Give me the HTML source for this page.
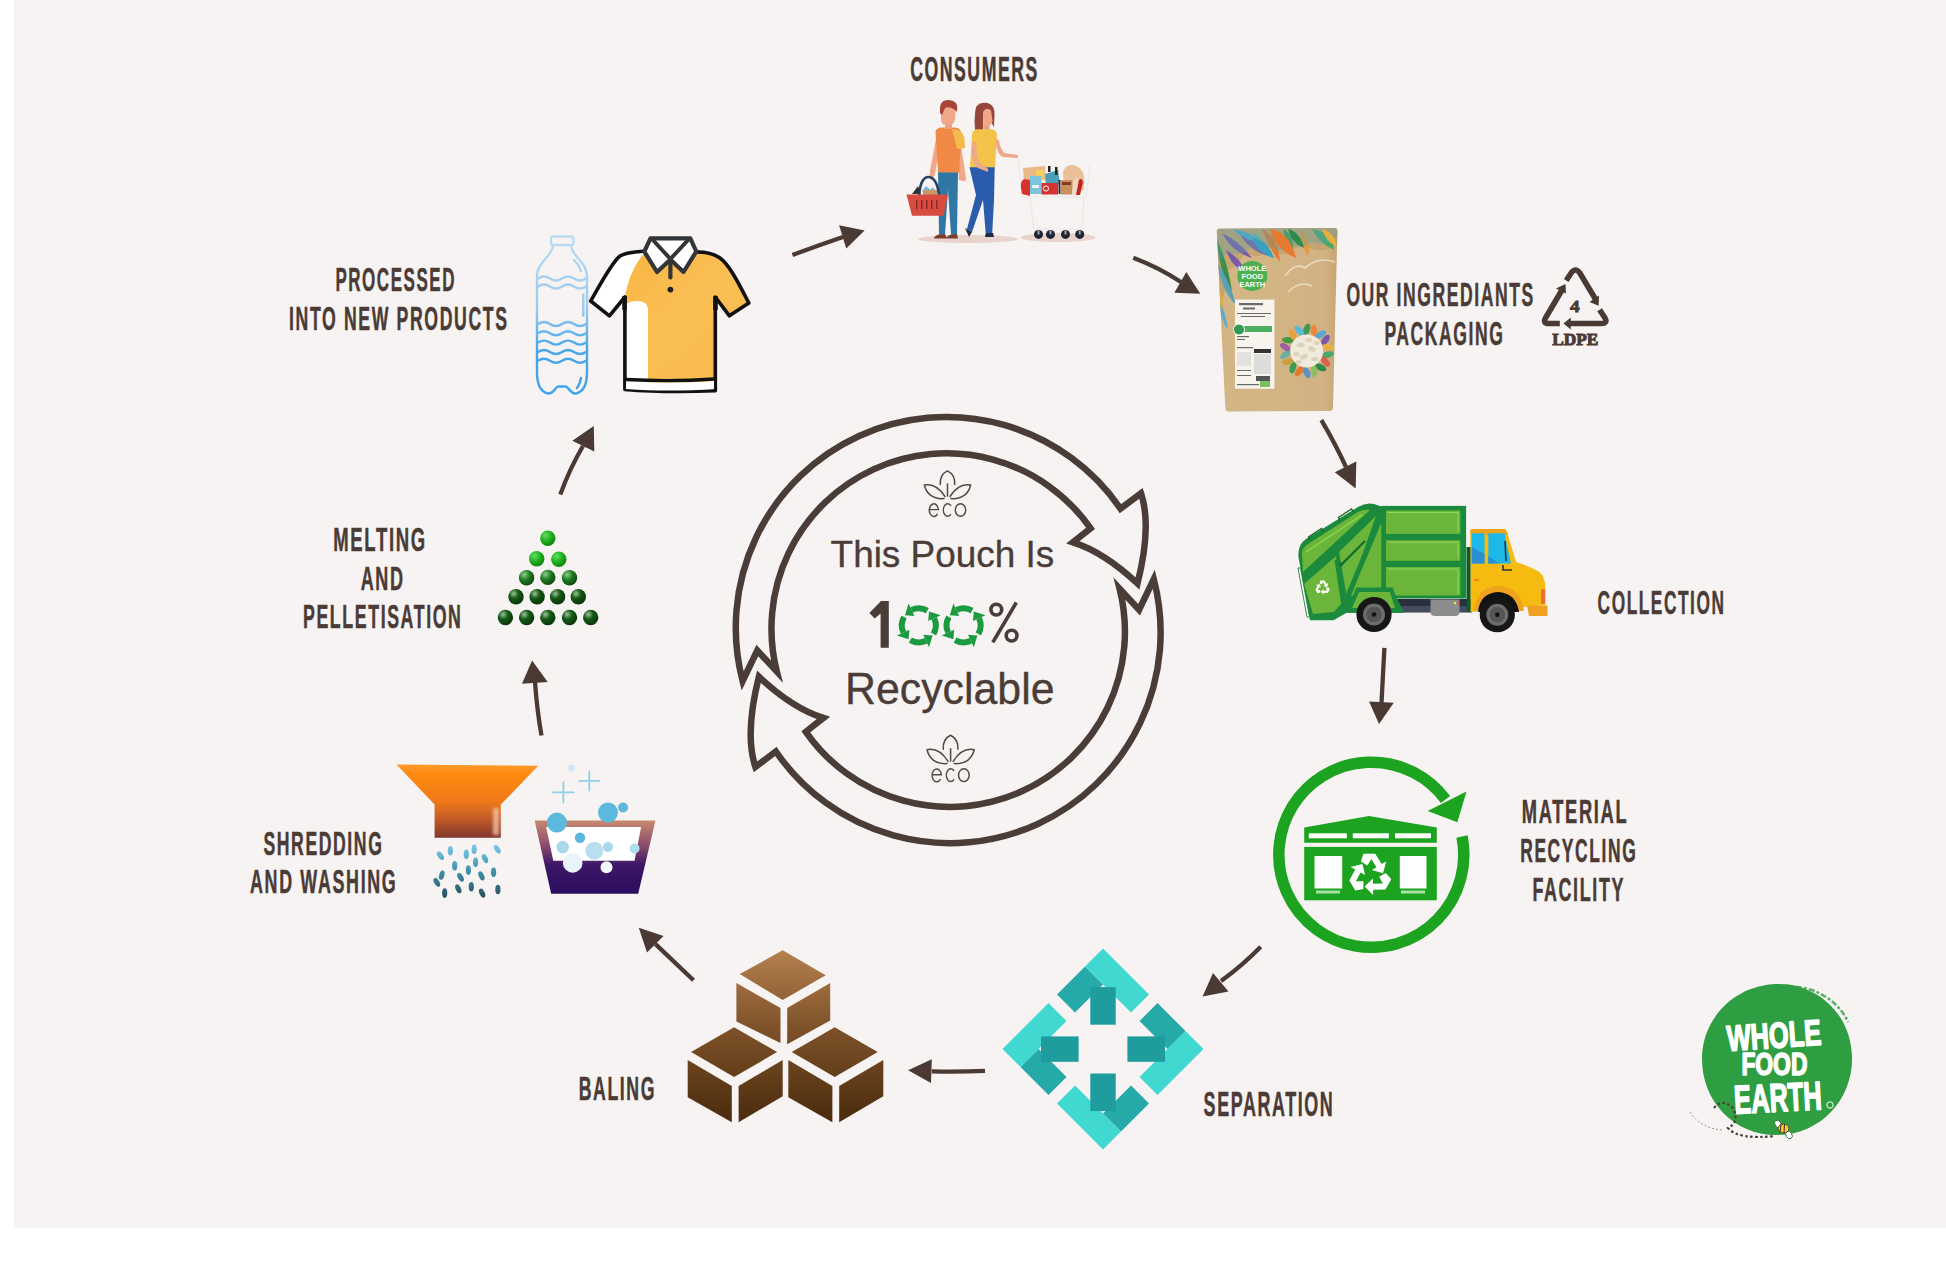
<!DOCTYPE html>
<html><head><meta charset="utf-8">
<style>
html,body{margin:0;padding:0;background:#fff;width:1946px;height:1268px;overflow:hidden}
svg{position:absolute;left:0;top:0;display:block}
.lb{font-family:"Liberation Sans",sans-serif;font-weight:bold;font-size:33.4px;fill:#4a3b36;stroke:#4a3b36;stroke-width:0.5px}
.rg{font-family:"Liberation Sans",sans-serif;fill:#4a3c37}
</style></head><body>
<svg width="1946" height="1268" viewBox="0 0 1946 1268">
<defs>
</defs>
<rect x="14" y="0" width="1932" height="1228" fill="#f7f3f2"/>

<!-- LABELS -->
<g class="lb">
<text x="910.2" y="81.2" font-size="34.7" letter-spacing="3" textLength="128.6" lengthAdjust="spacingAndGlyphs">CONSUMERS</text>
<text x="335.4" y="290.8" font-size="33.1" letter-spacing="3" textLength="120.6" lengthAdjust="spacingAndGlyphs">PROCESSED</text>
<text x="289.0" y="329.7" font-size="32.3" letter-spacing="3" textLength="219.7" lengthAdjust="spacingAndGlyphs">INTO NEW PRODUCTS</text>
<text x="1346.4" y="306.0" font-size="33.1" letter-spacing="3" textLength="188.4" lengthAdjust="spacingAndGlyphs">OUR INGREDIANTS</text>
<text x="1384.4" y="345.0" font-size="33.4" letter-spacing="3" textLength="120.1" lengthAdjust="spacingAndGlyphs">PACKAGING</text>
<text x="1597.6" y="614.1" font-size="33.4" letter-spacing="3" textLength="127.9" lengthAdjust="spacingAndGlyphs">COLLECTION</text>
<text x="1521.8" y="823.1" font-size="33.0" letter-spacing="3" textLength="106.5" lengthAdjust="spacingAndGlyphs">MATERIAL</text>
<text x="1520.2" y="861.9" font-size="32.3" letter-spacing="3" textLength="117.1" lengthAdjust="spacingAndGlyphs">RECYCLING</text>
<text x="1532.4" y="900.7" font-size="32.3" letter-spacing="3" textLength="92.7" lengthAdjust="spacingAndGlyphs">FACILITY</text>
<text x="1203.6" y="1115.8" font-size="34.2" letter-spacing="3" textLength="130.7" lengthAdjust="spacingAndGlyphs">SEPARATION</text>
<text x="578.7" y="1099.8" font-size="33.1" letter-spacing="3" textLength="77.3" lengthAdjust="spacingAndGlyphs">BALING</text>
<text x="263.4" y="854.5" font-size="33.0" letter-spacing="3" textLength="120.1" lengthAdjust="spacingAndGlyphs">SHREDDING</text>
<text x="250.0" y="892.9" font-size="32.3" letter-spacing="3" textLength="147.4" lengthAdjust="spacingAndGlyphs">AND WASHING</text>
<text x="333.2" y="550.8" font-size="33.1" letter-spacing="3" textLength="93.7" lengthAdjust="spacingAndGlyphs">MELTING</text>
<text x="360.7" y="589.6" font-size="33.1" letter-spacing="3" textLength="44.0" lengthAdjust="spacingAndGlyphs">AND</text>
<text x="303.0" y="628.4" font-size="33.1" letter-spacing="3" textLength="159.5" lengthAdjust="spacingAndGlyphs">PELLETISATION</text>
</g>

<!-- STEP ARROWS -->
<g fill="#4a3a33" stroke="none">
<path d="M792.4 255 Q818 245.5 843 237" fill="none" stroke="#4a3a33" stroke-width="4.2"/>
<polygon points="864.6,230.6 839.1,225.2 846.3,248.6"/>
<path d="M1133.3 257.7 Q1160 268 1181 282" fill="none" stroke="#4a3a33" stroke-width="4.3"/>
<polygon points="1200.3,293.8 1174.4,292.7 1186.3,272"/>
<path d="M1321.4 420.1 Q1336 445 1346 467" fill="none" stroke="#4a3a33" stroke-width="4.3"/>
<polygon points="1355.7,488.4 1334.8,472.3 1356.3,461.6"/>
<path d="M1384.4 647.8 Q1383 675 1381.5 703" fill="none" stroke="#4a3a33" stroke-width="4.3"/>
<polygon points="1379,724.1 1369.1,701.4 1393.8,702.7"/>
<path d="M1260.7 946.7 Q1243 965 1221 981" fill="none" stroke="#4a3a33" stroke-width="4.3"/>
<polygon points="1202.6,996.6 1213,972.9 1228.5,991.6"/>
<path d="M985 1070.8 Q960 1072 931.8 1071.4" fill="none" stroke="#4a3a33" stroke-width="4.3"/>
<polygon points="908.1,1070.2 931.8,1059.2 931,1083"/>
<path d="M693.5 980.3 L655.5 944.1" fill="none" stroke="#4a3a33" stroke-width="4.3"/>
<polygon points="638.8,927.7 663.6,935.9 647,952.6"/>
<path d="M541.5 735.5 Q537 710 535 682" fill="none" stroke="#4a3a33" stroke-width="4.3"/>
<polygon points="532.1,660.5 522,683.8 547.7,681.9"/>
<path d="M560.3 494.4 Q570 468 583 446" fill="none" stroke="#4a3a33" stroke-width="4.3"/>
<polygon points="593.8,426.1 572.3,440.8 594.3,451.5"/>
</g>

<!-- CENTRAL RING -->
<g fill="none" stroke="#4a3c36" stroke-width="6.5" stroke-linejoin="miter" stroke-miterlimit="10">
<path id="ringA" d="M742.6 681.0 A210.8 210.8 0 0 1 1120.5 508.7 L1141 493.3 Q1152 526 1137.5 583.5 Q1104 552 1073 542.3 L1090.6 528.4 A175.3 175.3 0 0 0 776.8 671.5 L757.3 650.5 Z"/>
<use href="#ringA" transform="rotate(180 948.2 630.1)"/>
</g>

<!-- CENTER TEXT -->
<g class="rg">
<text x="830.6" y="567.2" font-size="37.3" textLength="223.5" lengthAdjust="spacingAndGlyphs" stroke="#4a3c37" stroke-width="0.35">This Pouch Is</text>
<text x="845.0" y="703.7" font-size="44.2" textLength="209.5" lengthAdjust="spacingAndGlyphs" stroke="#4a3c37" stroke-width="0.35">Recyclable</text>
<polygon points="880.6,601.1 888.8,601.1 888.8,647.8 880.6,647.8 880.6,613.5 874.6,618.4 869.4,613 881,601.1"/>
<g fill="none" stroke="#4a3c37" stroke-width="3.6"><circle cx="996.3" cy="609.6" r="5.4"/><circle cx="1011.6" cy="635.6" r="5.4"/><path d="M1016.3 602.5 L992.8 642.3"/></g>
</g>
<!-- GREEN 00 -->
<g id="g00" fill="#1b9a40">
<g id="rc1" transform="translate(918.8 625.4)">
 <g id="rseg">
  <path d="M8.5 -14.72 A17 17 0 0 0 -7.18 -15.41" fill="none" stroke="#1b9a40" stroke-width="6"/>
  <polygon points="-10.2,-21.9 -4.4,-9.4 -13.8,-10.2"/>
 </g>
 <use href="#rseg" transform="rotate(-90)"/>
 <use href="#rseg" transform="rotate(180)"/>
 <use href="#rseg" transform="rotate(90)"/>
</g>
<use href="#rc1" transform="translate(44.8 0)"/>
</g>

<!-- ECO ICONS -->
<g id="eco1" fill="none" stroke="#4f4a48" stroke-width="1.5" stroke-linecap="round">
 <path d="M940.3 484.5 C939.8 477 943.5 472.8 947.4 470.9 C951.3 472.8 955.2 477 954.7 484.5"/>
 <path d="M945 496.5 C939 487 932 483.5 924.4 485 C926 493 932.5 499.5 944 498.6"/>
 <path d="M950 496.5 C956 487 963 483.5 970.6 485 C969 493 962.5 499.5 951 498.6"/>
 <path d="M947.5 484 V496"/>
 <path d="M929.4 509.6 H938.4 A4.55 6.3 0 1 0 937.3 514.3" stroke-width="1.45"/>
 <path d="M950.6 505.4 A4.3 6.3 0 1 0 950.6 514.6" stroke-width="1.45"/>
 <ellipse cx="960.5" cy="510" rx="5.2" ry="6.3" stroke-width="1.45"/>
</g>
<use href="#eco1" transform="translate(950.5 735.3) scale(1.02) translate(-947.4 -470.9)"/>

<!-- MRF ICON -->
<g id="mrf">
 <path d="M1462.0 836.5 A92.5 92.5 0 1 1 1445.5 799.5" fill="none" stroke="#1ca31f" stroke-width="11.5"/>
 <polygon points="1457.3,822.2 1427.6,810.9 1466.5,791.4" fill="#1ca31f"/>
 <polygon points="1304.2,827.4 1369,816 1436.8,827.4 1436.8,842.8 1304.2,842.8" fill="#1ca31f"/>
 <rect x="1304.2" y="846.9" width="132.6" height="53.4" fill="#1ca31f"/>
 <rect x="1308.8" y="833.3" width="38" height="5" fill="#fff"/>
 <rect x="1352.8" y="833.3" width="36" height="5" fill="#fff"/>
 <rect x="1395" y="833.3" width="36" height="5" fill="#fff"/>
 <rect x="1314.5" y="856" width="27.7" height="32.5" fill="#fff"/>
 <rect x="1399.8" y="856" width="26.7" height="32.5" fill="#fff"/>
 <rect x="1316" y="890.5" width="24" height="3" fill="#a8e0a8"/>
 <rect x="1401" y="890.5" width="24" height="3" fill="#a8e0a8"/>
 <g transform="translate(1370 874.5) scale(1.3)" fill="#fff">
  <g id="mrfarr">
   <path d="M-5 -16 L4 -16 L9 -8 L12.5 -10 L10 -1 L1.5 -3.5 L5 -5.5 L1 -12 L-2 -7 L-7 -10 Z"/>
  </g>
  <use href="#mrfarr" transform="rotate(120)"/>
  <use href="#mrfarr" transform="rotate(240)"/>
 </g>
</g>

<!-- SEPARATION DIAMOND -->
<g id="sep" transform="translate(1103 1049.1)">
 <g id="chev">
  <polygon points="-46,-54.5 -18,-82.5 0,-64.5 -28,-36.5" fill="#25aaa9"/>
  <polygon points="46,-54.5 0,-100.5 -18,-82.5 28,-36.5" fill="#40d8d0"/>
  <rect x="-12.7" y="-62" width="25.4" height="37.6" fill="#1f9c9e"/>
 </g>
 <use href="#chev" transform="rotate(90)"/>
 <use href="#chev" transform="rotate(180)"/>
 <use href="#chev" transform="rotate(270)"/>
</g>

<!-- CUBES -->
<defs>
 <linearGradient id="cubeg" gradientUnits="userSpaceOnUse" x1="0" y1="950" x2="0" y2="1122">
  <stop offset="0" stop-color="#b5814f"/>
  <stop offset="0.45" stop-color="#7e5229"/>
  <stop offset="1" stop-color="#4a2b0c"/>
 </linearGradient>
</defs>
<g id="cubes" fill="url(#cubeg)">
 <g id="cube1">
  <polygon points="782.7,950.3 825.7,975.2 782.7,1000.1 739.8,974.1"/>
  <polygon points="736.4,983.1 780.5,1008 780.5,1043.1 736.4,1021.6"/>
  <polygon points="787.2,1008 830.2,983.1 830.2,1020.4 787.2,1044.2"/>
 </g>
 <polygon points="734.1,1027.2 777.1,1052.1 734.1,1077 691.1,1052.1"/>
 <polygon points="687.7,1060 731.8,1086 731.8,1122.2 687.7,1097.3"/>
 <polygon points="738.6,1086 782.7,1060 782.7,1096.2 738.6,1122.2"/>
 <polygon points="834.7,1027.2 877.7,1052.1 834.7,1077 791.7,1052.1"/>
 <polygon points="788.3,1060 832.4,1086 832.4,1122.2 788.3,1097.3"/>
 <polygon points="839.2,1086 883.3,1060 883.3,1096.2 839.2,1122.2"/>
</g>

<!-- PELLETS -->
<defs>
 <radialGradient id="pelg1" cx="0.35" cy="0.3" r="0.8">
  <stop offset="0" stop-color="#5fe05f"/>
  <stop offset="0.5" stop-color="#1fae1f"/>
  <stop offset="1" stop-color="#0f7a0f"/>
 </radialGradient>
 <radialGradient id="pelg2" cx="0.35" cy="0.3" r="0.8">
  <stop offset="0" stop-color="#8ad08a"/>
  <stop offset="0.45" stop-color="#1f7a1f"/>
  <stop offset="1" stop-color="#0b3f0b"/>
 </radialGradient>
 <radialGradient id="pelg3" cx="0.35" cy="0.3" r="0.8">
  <stop offset="0" stop-color="#9ac49a"/>
  <stop offset="0.4" stop-color="#155915"/>
  <stop offset="1" stop-color="#062e06"/>
 </radialGradient>
</defs>
<g id="pellets">
 <circle cx="547.8" cy="538.2" r="7.7" fill="url(#pelg1)"/>
 <circle cx="536.7" cy="558.8" r="7.7" fill="url(#pelg1)"/>
 <circle cx="558.8" cy="559.2" r="7.7" fill="url(#pelg1)"/>
 <circle cx="526.6" cy="577.7" r="7.7" fill="url(#pelg2)"/>
 <circle cx="547.8" cy="577.4" r="7.7" fill="url(#pelg2)"/>
 <circle cx="569.5" cy="577.7" r="7.7" fill="url(#pelg2)"/>
 <circle cx="516" cy="596.7" r="7.7" fill="url(#pelg3)"/>
 <circle cx="537.1" cy="596.7" r="7.7" fill="url(#pelg3)"/>
 <circle cx="557.6" cy="596.7" r="7.7" fill="url(#pelg3)"/>
 <circle cx="578.3" cy="596.7" r="7.7" fill="url(#pelg3)"/>
 <circle cx="505.4" cy="617.5" r="7.7" fill="url(#pelg3)"/>
 <circle cx="526.6" cy="617.5" r="7.7" fill="url(#pelg3)"/>
 <circle cx="547.8" cy="617.5" r="7.7" fill="url(#pelg3)"/>
 <circle cx="569.5" cy="617.5" r="7.7" fill="url(#pelg3)"/>
 <circle cx="590.7" cy="617.5" r="7.7" fill="url(#pelg3)"/>
</g>
<!-- SHREDDER FUNNEL -->
<defs>
 <linearGradient id="fung" gradientUnits="userSpaceOnUse" x1="0" y1="764" x2="0" y2="838">
  <stop offset="0" stop-color="#ff9a2a"/>
  <stop offset="0.15" stop-color="#ff8a10"/>
  <stop offset="0.5" stop-color="#f07a18"/>
  <stop offset="0.75" stop-color="#c05a28"/>
  <stop offset="1" stop-color="#80362e"/>
 </linearGradient>
 <linearGradient id="dropg" x1="0" y1="0" x2="0" y2="1">
  <stop offset="0" stop-color="#7cc8e6"/>
  <stop offset="1" stop-color="#2e5c6a"/>
 </linearGradient>
 <linearGradient id="dropAll" gradientUnits="userSpaceOnUse" x1="0" y1="846" x2="0" y2="898">
  <stop offset="0" stop-color="#78c6e6"/>
  <stop offset="0.5" stop-color="#3f8fa8"/>
  <stop offset="1" stop-color="#2a4f5c"/>
 </linearGradient>
 <linearGradient id="tubg" gradientUnits="userSpaceOnUse" x1="0" y1="820" x2="0" y2="894">
  <stop offset="0" stop-color="#c98a70"/>
  <stop offset="0.35" stop-color="#8a4a6a"/>
  <stop offset="0.6" stop-color="#3e1868"/>
  <stop offset="1" stop-color="#2a0c5e"/>
 </linearGradient>
</defs>
<polygon points="396.5,764.4 538.2,765.8 500.8,804.6 500.8,837.7 434.6,837.7 434.6,804.6" fill="url(#fung)"/>
<defs><filter id="blur2" x="-50%" y="-50%" width="200%" height="200%"><feGaussianBlur stdDeviation="1.6"/></filter></defs>
<rect x="493" y="808" width="6" height="27" fill="#f8d0b8" opacity="0.7" filter="url(#blur2)"/>
<g fill="url(#dropAll)">
 <ellipse cx="440.4" cy="855.7" rx="2.6" ry="4.8" transform="rotate(-35 440.4 855.7)"/>
 <ellipse cx="450.4" cy="850.7" rx="2.6" ry="4.8"/>
 <ellipse cx="466.3" cy="854.3" rx="2.6" ry="4.8"/>
 <ellipse cx="474.2" cy="849.2" rx="2.6" ry="4.8"/>
 <ellipse cx="497.2" cy="849.2" rx="2.6" ry="4.8" transform="rotate(-35 497.2 849.2)"/>
 <ellipse cx="454.7" cy="865.8" rx="2.6" ry="4.8"/>
 <ellipse cx="475.6" cy="862.2" rx="2.6" ry="4.8"/>
 <ellipse cx="485" cy="858.6" rx="2.6" ry="4.8" transform="rotate(-25 485 858.6)"/>
 <ellipse cx="468.4" cy="870.1" rx="2.6" ry="4.8"/>
 <ellipse cx="441.8" cy="875.1" rx="2.6" ry="4.8" transform="rotate(15 441.8 875.1)"/>
 <ellipse cx="460.5" cy="877.3" rx="2.6" ry="4.8" transform="rotate(-30 460.5 877.3)"/>
 <ellipse cx="481.4" cy="875.9" rx="2.6" ry="4.8" transform="rotate(-25 481.4 875.9)"/>
 <ellipse cx="493.6" cy="872.3" rx="2.6" ry="4.8"/>
 <ellipse cx="436.8" cy="882.3" rx="2.6" ry="4.8" transform="rotate(-30 436.8 882.3)"/>
 <ellipse cx="458.3" cy="888.8" rx="2.6" ry="4.8" transform="rotate(-25 458.3 888.8)"/>
 <ellipse cx="471.3" cy="886.7" rx="2.6" ry="4.8"/>
 <ellipse cx="444.7" cy="893.1" rx="2.6" ry="4.8"/>
 <ellipse cx="482.1" cy="893.1" rx="2.6" ry="4.8" transform="rotate(-25 482.1 893.1)"/>
 <ellipse cx="497.9" cy="889.5" rx="2.6" ry="4.8"/>
</g>
<!-- TUB -->
<polygon points="534.6,820.5 655.5,820.5 638.2,893.8 551.2,893.8" fill="url(#tubg)"/>
<polygon points="546.1,827 641.1,827 634.6,860.8 553.3,860.8" fill="#ffffff"/>
<g>
 <circle cx="580" cy="837.7" r="5.2" fill="#5cb8dc"/>
 <circle cx="562.7" cy="847.1" r="6.3" fill="#a8d8ea"/>
 <circle cx="594.3" cy="850.7" r="9" fill="#b8def0"/>
 <circle cx="608" cy="847.1" r="5" fill="#a8d8ea"/>
 <circle cx="634.6" cy="848.5" r="5" fill="#b0dcee"/>
 <circle cx="572.7" cy="862.9" r="9.8" fill="#e8f4fa"/>
 <circle cx="606.5" cy="867.2" r="6" fill="#f4fafc"/>
 <circle cx="556.9" cy="822.6" r="10" fill="#5cb8dc"/>
 <circle cx="608" cy="812.6" r="10" fill="#5cb8dc"/>
 <circle cx="623.1" cy="807.5" r="5" fill="#5cb8dc"/>
</g>
<g stroke="#8fd0e8" stroke-width="1.8" stroke-linecap="round">
 <path d="M563.4 782.5 V802.5 M553 792.4 H573.8"/>
 <path d="M589.3 771.5 V790.5 M579.5 780.9 H599.5"/>
</g>
<circle cx="571.3" cy="768" r="3.2" fill="#c8eaf4"/>

<!-- BOTTLE -->
<defs>
 <linearGradient id="botg" gradientUnits="userSpaceOnUse" x1="0" y1="236" x2="0" y2="395">
  <stop offset="0" stop-color="#bcdcf2"/>
  <stop offset="0.45" stop-color="#9ccaee"/>
  <stop offset="0.7" stop-color="#4aa8ea"/>
  <stop offset="1" stop-color="#3fa2ea"/>
 </linearGradient>
</defs>
<g fill="none" stroke="url(#botg)" stroke-width="2.4" stroke-linecap="round" stroke-linejoin="round">
 <rect x="551" y="236.5" width="22.5" height="8.5" rx="2.5"/>
 <path d="M553 245 C553 256 537 262 537 276 L537 372 C537 385 541 392 548 393.5 C553 394 555 388 558 386.5 L566 386.5 C569 388 571 394 576 393.5 C583 392 587 385 587 372 L587 276 C587 262 571 256 571 245"/>
 <path d="M538 278.5 q6 -4 12 0 t12 0 t12 0 t12 0"/>
 <path d="M538 286.5 q6 -4 12 0 t12 0 t12 0 t12 0"/>
 <path d="M538 324 q6 -4 12 0 t12 0 t12 0 t12 0"/>
 <path d="M538 333.2 q6 -4 12 0 t12 0 t12 0 t12 0"/>
 <path d="M538 342.6 q6 -4 12 0 t12 0 t12 0 t12 0"/>
 <path d="M538 352 q6 -4 12 0 t12 0 t12 0 t12 0"/>
 <path d="M538 360.7 q6 -4 12 0 t12 0 t12 0 t12 0"/>
 <path d="M583.3 294.5 V315.5"/>
 <path d="M581 378 Q580 384 577 388"/>
 <path d="M574 260 Q579 265 581 271"/>
</g>

<!-- SHIRT -->
<defs>
 <linearGradient id="shirtg" x1="0" y1="0" x2="1" y2="1">
  <stop offset="0" stop-color="#f9b23c"/>
  <stop offset="0.5" stop-color="#fbbf55"/>
  <stop offset="1" stop-color="#f8b84a"/>
 </linearGradient>
</defs>
<g stroke-linejoin="round">
 <path d="M646 251 C636 252 626 252 620 256 C612 262 600 285 590.7 301 L609.4 315.8 L624.9 297 L624.9 389.5 C655 392 685 392 715.3 390.8 L715.3 297 L729.4 315.8 L748.8 303 C741 288 730 265 720 258 C713 253 705 252 697 252 Z" fill="url(#shirtg)"/>
 <path d="M646 251 C636 252 626 252 620 256 C612 262 600 285 590.7 301 L609.4 315.8 L624.9 297 L624.9 389.5 L648 389.5 L648 310 C648 303 643 301 636 301 C630 301 626 304 625 306 L625 297 C630 270 640 258 646 251 Z" fill="#ffffff"/>
 <path d="M646 251 C636 252 626 252 620 256 C612 262 600 285 590.7 301 L609.4 315.8 L624.9 297 L624.9 389.5 C655 392 685 392 715.3 390.8 L715.3 297 L729.4 315.8 L748.8 303 C741 288 730 265 720 258 C713 253 705 252 697 252" fill="none" stroke="#111" stroke-width="3.6"/>
 <path d="M626 381 C655 383 685 383 714 381 L714 389 C685 391 655 391 626 389 Z" fill="#fff"/>
 <path d="M626 379.5 C655 381 685 381 714 379" fill="none" stroke="#111" stroke-width="3.4"/>
 <path d="M650.5 238.3 L690.3 238.3 L696.3 251.5 L683.5 272 L670.4 259.5 L657 272 L644.3 251.5 Z" fill="#fff" stroke="#333538" stroke-width="4.2"/>
 <path d="M652 239 L670.4 259 L689 239" fill="none" stroke="#333538" stroke-width="4"/>
 <path d="M670.4 262 V277.5" stroke="#333538" stroke-width="4.2" stroke-linecap="round"/>
 <circle cx="670.4" cy="289.6" r="2.9" fill="#222"/>
 <path d="M624.5 296 L624.5 310" stroke="#111" stroke-width="4.5"/>
 <path d="M715.5 296 L715.5 310" stroke="#111" stroke-width="4.5"/>
</g>

<!-- LDPE SYMBOL -->
<g fill="none" stroke="#4a3a33" stroke-width="5.6" stroke-linejoin="round">
 <path d="M1566.2 280.5 L1571.5 272.5 Q1575.5 267.5 1579.5 272.5 L1596 300"/>
 <path d="M1599.6 309.7 L1605 318 Q1608 323.5 1601 323.5 L1569 323.5"/>
 <path d="M1559.8 323.5 L1549 323.5 Q1542.5 323.5 1545.5 318 L1562 290"/>
</g>
<g fill="#4a3a33">
 <polygon points="1598.6,305.8 1599,295.5 1589.5,302"/>
 <polygon points="1563.5,323.5 1570.8,317.5 1570.8,329.5"/>
 <polygon points="1565.5,284 1556,288.5 1566,293.5"/>
 <text x="1570" y="311.6" font-family="Liberation Serif, serif" font-weight="bold" font-size="17" textLength="9.6" lengthAdjust="spacingAndGlyphs" stroke="#4a3a33" stroke-width="0.8">4</text>
 <text x="1552.3" y="345.3" font-family="Liberation Serif, serif" font-weight="bold" font-size="17.5" textLength="46" lengthAdjust="spacingAndGlyphs" stroke="#4a3a33" stroke-width="1">LDPE</text>
</g>
<!-- TRUCK -->
<g id="truck">
 <!-- chassis -->
 <rect x="1395" y="599" width="77" height="13.5" fill="#2b3040"/>
 <rect x="1398" y="606" width="74" height="6" fill="#454c5e"/>
 <path d="M1430.5 599.5 H1459.5 V612 Q1459.5 616 1455 616 H1435 Q1430.5 616 1430.5 612 Z" fill="#8c8c8e"/>
 <circle cx="1455" cy="603" r="1.3" fill="#f0e040"/>
 <circle cx="1458.5" cy="603" r="1.3" fill="#e05030"/>
 <!-- body -->
 <rect x="1381.5" y="505.9" width="84.6" height="92.6" fill="#1a8a3c"/>
 <rect x="1386" y="510.4" width="74.4" height="23.5" fill="#6ab53a"/>
 <rect x="1386" y="540.2" width="74.4" height="20.6" fill="#6ab53a"/>
 <rect x="1386" y="567" width="74.4" height="28.6" fill="#6ab53a"/>
 <g fill="none" stroke="#8edb55" stroke-width="1">
  <path d="M1388 512.5 H1458 V532"/>
  <path d="M1388 542.2 H1458 V559"/>
  <path d="M1388 569 H1458 V594"/>
 </g>
 <!-- compactor -->
 <path d="M1298.6 558 Q1297 545 1306 539 L1358 507 Q1366 502 1374 504 L1386 508 L1386 590 L1393 590 L1404 612.8 L1346.6 612.8 L1333.5 620.2 L1310 620.2 Z" fill="#1b8a3c"/>
 <path d="M1302 553 Q1302 548 1308 544 L1358 512 Q1364 509 1370 510 L1303 572 Z" fill="#6ab53a"/>
 <path d="M1306 552 L1362 515" stroke="#8edb55" stroke-width="1.2" fill="none"/>
 <path d="M1304 584 L1336 556 L1342 603 L1334 612 L1313 614 Z" fill="#6ab53a"/>
 <path d="M1339 552 L1376 516 L1347 598 Z" fill="#6ab53a"/>
 <path d="M1381.5 512 L1381.5 588 L1351 596 Z" fill="#6ab53a"/>
 <path d="M1384 510 L1344.5 604" stroke="#1b8a3c" stroke-width="5" fill="none"/>
 <path d="M1377 509 L1303.5 579" stroke="#1b8a3c" stroke-width="5.5" fill="none"/>
 <path d="M1336 560 L1343 606" stroke="#1b8a3c" stroke-width="3" fill="none"/>
 <path d="M1341 565 L1365 541" stroke="#13702f" stroke-width="2.4" fill="none"/>
 <circle cx="1341" cy="564.5" r="2" fill="#13702f"/>
 <rect x="1381.5" y="506" width="4.5" height="92" fill="#1b8a3c"/>
 <path d="M1298 568 L1300.5 568 L1309.5 617 L1307 617 Z" fill="#fff" stroke="#1a7a34" stroke-width="0.9"/>
 <path d="M1310 540 L1308.5 537 L1321.5 528.5 L1323.5 531.5" stroke="#1b6a30" stroke-width="1.4" fill="none"/>
 <path d="M1340 520.5 L1338.5 517.5 L1351.5 509 L1353.5 512" stroke="#1b6a30" stroke-width="1.4" fill="none"/>
 <!-- recycle symbol -->
 <g transform="translate(1322.6 587.6) scale(0.45)" fill="#ffffff">
  <use href="#mrfarr"/><use href="#mrfarr" transform="rotate(120)"/><use href="#mrfarr" transform="rotate(240)"/>
 </g>
 <!-- wheel arch -->
 <path d="M1346.6 612.8 L1356.3 587.6 L1392.9 587.6 L1401 612.8 Z" fill="#1b8a3c"/>
 <path d="M1352 608 L1359 592 L1390 592 L1395 608 Z" fill="#6ab53a"/>
 <!-- cab -->
 <path d="M1470.3 531 Q1470.3 529 1473 529 L1503 529 Q1506 529 1507 532 L1516 562 Q1540 570 1543 576 Q1545.5 582 1545.5 590 L1545.5 605 L1470.3 612 Z" fill="#f6bb10"/>
 <path d="M1470.3 531 Q1470.3 529 1473 529 L1503 529 Q1506 529 1507 532 L1508 535 L1471 535 Z" fill="#eda21e"/>
 <path d="M1527 605.5 L1547.5 605.5 L1547.5 616 L1529 616 Z" fill="#f0a020"/>
 <rect x="1541" y="589" width="4" height="15" rx="1.5" fill="#e87030"/>
 <rect x="1466.5" y="547" width="4" height="65" fill="#0f5a2a"/>
 <rect x="1471.7" y="533.2" width="12.8" height="30.3" rx="1.5" fill="#1bb8e8"/>
 <path d="M1488.3 533.2 L1504.5 533.2 L1511 563.5 L1488.3 563.5 Z" fill="#1bb8e8"/>
 <path d="M1471.7 547 L1484.5 554 L1484.5 563.5 L1471.7 563.5 Z M1488.3 556 L1499 563.5 L1488.3 563.5 Z" fill="#2a8ed0"/>
 <path d="M1505 541 L1506 561 M1503 565 L1503 570 L1512 570" stroke="#333" stroke-width="1.6" fill="none"/>
 <path d="M1474 580 H1479" stroke="#e8701e" stroke-width="1.5"/>
 <path d="M1474 611 Q1476 587 1498 586 Q1521 587 1524 611" fill="#f0a21e"/>
 <path d="M1478 612 Q1480 593 1498 592 Q1516 593 1519 612 Z" fill="#111"/>
 <!-- wheels -->
 <g id="wheel">
  <circle cx="1374" cy="614.5" r="17.6" fill="#161616"/>
  <circle cx="1374" cy="614.5" r="11" fill="#6a6a6a"/>
  <circle cx="1374" cy="614.5" r="8.5" fill="#555" stroke="#7a7a7a" stroke-width="1"/>
  <circle cx="1374" cy="614.5" r="2.2" fill="#111"/>
 </g>
 <use href="#wheel" transform="translate(123.3 0.2)"/>
</g>
<!-- BAG -->
<defs>
 <linearGradient id="kraft" x1="0" y1="0" x2="1" y2="0">
  <stop offset="0" stop-color="#c6a26e"/>
  <stop offset="0.12" stop-color="#d4b686"/>
  <stop offset="0.85" stop-color="#d2b284"/>
  <stop offset="1" stop-color="#c09c68"/>
 </linearGradient>
 <clipPath id="bagclip"><path d="M1219 228.7 L1335 227.9 Q1337.6 228 1337.4 231 L1333 408 Q1332.7 411 1329.5 411 L1228.5 411.5 Q1225.5 411.5 1225.3 408 L1216.8 232 Q1216.8 228.7 1219 228.7 Z"/></clipPath>
</defs>
<g clip-path="url(#bagclip)">
 <rect x="1210" y="220" width="135" height="200" fill="url(#kraft)"/>
 <!-- top foliage -->
 <path d="M1215 226 L1340 226 L1340 240 Q1325 258 1300 244 Q1285 262 1270 248 Q1258 262 1246 252 Q1236 268 1228 270 Q1225 300 1217 310 Z" fill="#b9965e" opacity="0.5"/>
 <path d="M1262 229 Q1278 236 1280 262 Q1270 250 1262 229 Z" fill="#e8782c"/>
 <path d="M1283 229 Q1296 236 1292 252 Q1285 240 1283 229 Z" fill="#3f9a50"/>
 <path d="M1300 229 Q1312 240 1308 256 Q1300 244 1300 229 Z" fill="#e89a3a"/>
 <path d="M1312 229 Q1332 232 1334 250 Q1320 244 1312 229 Z" fill="#4aa86a"/>
 <path d="M1222 233 Q1240 242 1252 258 Q1232 252 1222 233 Z" fill="#7a5aa8"/>
 <path d="M1238 231 Q1258 236 1268 256 Q1248 250 1238 231 Z" fill="#7f5fae"/>
 <path d="M1232 229 Q1252 232 1266 244 Q1246 242 1232 229 Z" fill="#4eaad0"/>
 <path d="M1217 240 Q1228 262 1232 292 Q1220 276 1217 240 Z" fill="#3c8e4a"/>
 <path d="M1217 262 Q1230 282 1236 305 Q1222 292 1217 262 Z" fill="#5aa0b8"/>
 <path d="M1217 280 Q1224 300 1224 318 Q1218 305 1217 280 Z" fill="#e0a838"/>
 <path d="M1254 232 Q1264 238 1262 252 Q1256 244 1254 232 Z" fill="#5bb8b0"/>

 <path d="M1218 228 L1338 228 L1338 236 Q1322 248 1312 242 Q1300 252 1290 244 Q1280 256 1270 246 Q1260 256 1250 248 Q1238 258 1228 252 L1218 262 Z" fill="#5aa0a8" opacity="0.35"/>
 <path d="M1270 229 Q1290 232 1296 258 Q1276 250 1270 229 Z" fill="#e67a2e"/>
 <path d="M1288 229 Q1300 232 1304 248 Q1292 244 1288 229 Z" fill="#2e8a48"/>
 <path d="M1322 229 Q1336 234 1336 246 Q1326 242 1322 229 Z" fill="#e8b040"/>
 <path d="M1226 250 Q1240 258 1246 272 Q1232 268 1226 250 Z" fill="#7a5aa8"/>
 <path d="M1252 238 Q1268 240 1274 258 Q1258 254 1252 238 Z" fill="#3aa0c0"/>
 <path d="M1218 300 Q1226 312 1228 330 Q1220 318 1218 300 Z" fill="#5aaad0"/>
 <!-- clouds/mountains -->
 <path d="M1285 276 Q1295 262 1305 268 Q1318 256 1335 262 M1288 292 Q1300 280 1312 286" stroke="#efe4d0" stroke-width="1.6" fill="none" opacity="0.8"/>
 <!-- logo -->
 <circle cx="1252.3" cy="276" r="15" fill="#4caf50"/>
 <g fill="#fff" font-family="Liberation Sans, sans-serif" font-weight="bold" font-size="7.5" text-anchor="middle">
  <text x="1252.3" y="270.5">WHOLE</text><text x="1252.3" y="278.5">FOOD</text><text x="1252.3" y="286.5">EARTH</text>
 </g>
 <!-- label -->
 <rect x="1235" y="299.6" width="39.4" height="89.1" fill="#f7f4ee"/>
 <g fill="#6a6a6a">
  <rect x="1239" y="303" width="24" height="2.2"/><rect x="1243" y="307.5" width="12" height="2"/>
  <rect x="1237" y="313" width="34" height="1"/><rect x="1241" y="316" width="24" height="1"/>
  <rect x="1237" y="336" width="12" height="1.2"/><rect x="1237" y="339" width="8" height="1"/>
  <rect x="1237" y="347" width="16" height="1.2"/>
  <rect x="1237" y="352" width="14" height="14" fill="#e4e2de"/>
  <rect x="1254" y="349" width="17" height="4" fill="#333"/>
  <rect x="1254" y="354" width="17" height="20" fill="#dcdcdc"/>
  <rect x="1237" y="370" width="14" height="1"/><rect x="1237" y="375" width="14" height="1"/>
  <rect x="1256" y="376" width="14" height="5" fill="#555"/>
  <rect x="1237" y="384" width="22" height="1.2"/>
 </g>
 <rect x="1240" y="326" width="32" height="6" fill="#4caf60"/>
 <circle cx="1239" cy="329.5" r="5.5" fill="#2f9a50" stroke="#fff" stroke-width="1"/>
 <rect x="1260" y="381" width="10" height="6" fill="#7ac060"/>
 <!-- beans -->
 <g transform="translate(1306.7 350.9)">
  <ellipse cx="0" cy="-21.5" rx="3.2" ry="6.2" fill="#3f9a50" transform="rotate(0.0) rotate(20 0 -21.5)"/>
  <ellipse cx="0" cy="-21.5" rx="3.2" ry="6.2" fill="#e8883a" transform="rotate(20.0) rotate(-25 0 -21.5)"/>
  <ellipse cx="0" cy="-21.5" rx="3.2" ry="6.2" fill="#5aaad0" transform="rotate(40.0) rotate(20 0 -21.5)"/>
  <ellipse cx="0" cy="-21.5" rx="3.2" ry="6.2" fill="#7a5aa8" transform="rotate(60.0) rotate(-25 0 -21.5)"/>
  <ellipse cx="0" cy="-21.5" rx="3.2" ry="6.2" fill="#e8b040" transform="rotate(80.0) rotate(20 0 -21.5)"/>
  <ellipse cx="0" cy="-21.5" rx="3.2" ry="6.2" fill="#4aa86a" transform="rotate(100.0) rotate(-25 0 -21.5)"/>
  <ellipse cx="0" cy="-21.5" rx="3.2" ry="6.2" fill="#d9604a" transform="rotate(120.0) rotate(20 0 -21.5)"/>
  <ellipse cx="0" cy="-21.5" rx="3.2" ry="6.2" fill="#2e8a48" transform="rotate(140.0) rotate(-25 0 -21.5)"/>
  <ellipse cx="0" cy="-21.5" rx="3.2" ry="6.2" fill="#8ac060" transform="rotate(160.0) rotate(20 0 -21.5)"/>
  <ellipse cx="0" cy="-21.5" rx="3.2" ry="6.2" fill="#5a90c8" transform="rotate(180.0) rotate(-25 0 -21.5)"/>
  <ellipse cx="0" cy="-21.5" rx="3.2" ry="6.2" fill="#e07a30" transform="rotate(200.0) rotate(20 0 -21.5)"/>
  <ellipse cx="0" cy="-21.5" rx="3.2" ry="6.2" fill="#3f9a50" transform="rotate(220.0) rotate(-25 0 -21.5)"/>
  <ellipse cx="0" cy="-21.5" rx="3.2" ry="6.2" fill="#c8a040" transform="rotate(240.0) rotate(20 0 -21.5)"/>
  <ellipse cx="0" cy="-21.5" rx="3.2" ry="6.2" fill="#6ab0a0" transform="rotate(260.0) rotate(-25 0 -21.5)"/>
  <ellipse cx="0" cy="-21.5" rx="3.2" ry="6.2" fill="#a060a0" transform="rotate(280.0) rotate(20 0 -21.5)"/>
  <ellipse cx="0" cy="-21.5" rx="3.2" ry="6.2" fill="#4a9a40" transform="rotate(300.0) rotate(-25 0 -21.5)"/>
  <ellipse cx="0" cy="-21.5" rx="3.2" ry="6.2" fill="#e8a040" transform="rotate(320.0) rotate(20 0 -21.5)"/>
  <ellipse cx="0" cy="-21.5" rx="3.2" ry="6.2" fill="#5ab8d8" transform="rotate(340.0) rotate(-25 0 -21.5)"/>
  <circle r="16.5" fill="#efeadc"/>
  <g fill="#dcd3bc"><ellipse cx="-6" cy="-6" rx="4" ry="2.5"/><ellipse cx="5" cy="-2" rx="4" ry="2.5" transform="rotate(30 5 -2)"/><ellipse cx="-3" cy="6" rx="4" ry="2.5" transform="rotate(-20 -3 6)"/><ellipse cx="8" cy="8" rx="3.5" ry="2.2"/><ellipse cx="-10" cy="3" rx="3" ry="2"/><ellipse cx="2" cy="-11" rx="3.5" ry="2.2"/><ellipse cx="-8" cy="11" rx="3" ry="2"/><ellipse cx="10" cy="-8" rx="3" ry="2"/></g>
 </g>
</g>

<!-- CONSUMERS -->
<g id="consumers">
 <ellipse cx="968" cy="239" rx="50" ry="4" fill="#e8d4cc"/>
 <ellipse cx="1058" cy="237.5" rx="37.5" ry="4.5" fill="#e8d4cc"/>
 <!-- man -->
 <path d="M936.5 136 L930 171 Q929 177 932 177.5 L934.5 176 L941 140 Z" fill="#f0a888"/>
 <path d="M961 146 L966 178 Q966 182 963 181 L959 180 L957 148 Z" fill="#f0a888"/>
 <path d="M938 172 L958 172 L957 234.5 L951 234.5 L948 190 L945 234.5 L939 234.5 Z" fill="#2f78a6"/>
 <path d="M934 238.5 Q935 233.5 945 234 L947 238.5 Z M946 238.5 Q948 233.5 957 234 L958 238.5 Z" fill="#7a3e2c"/>
 <path d="M935.5 132 Q936 127.5 942 127.5 L955 127.5 Q961 128 961.5 134 L959 172.5 L938 172.5 Z" fill="#ef8945"/>
 <path d="M952 129 Q962 129 964.5 138 L965 148 L957 149 Z" fill="#f6ba4c"/>
 <rect x="945" y="121" width="7" height="8" fill="#eba080"/>
 <path d="M941 106 Q941 103 944 103 L953 103 Q956 104 955.6 108 L955 120 Q954 125 949 125 L945 125 Q941 124 941 119 Z" fill="#f0a888"/>
 <path d="M940 113 Q939 101 946 100.3 Q952 99 956 103 Q958 106 956.8 112 L955 110 Q950 106 945 108 L942 115 Z" fill="#a8453a"/>
 <!-- basket -->
 <path d="M919 195 Q921 176 929 177 Q937 178 939 195" fill="none" stroke="#27406a" stroke-width="2.6"/>
 <path d="M922 192 Q926 182 930 190 Q934 184 936 194 Z" fill="#7ab8d8"/>
 <path d="M912 194 L918 186 L921 194 Z" fill="#333"/>
 <rect x="923" y="190" width="14" height="5" fill="#c89868"/>
 <path d="M906.5 194.4 L948 194.4 L943.5 215.7 L912 215.7 Z" fill="#d94a40"/>
 <g fill="#8a2a28"><rect x="916" y="200" width="1.5" height="9"/><rect x="921" y="200" width="1.5" height="9"/><rect x="926" y="200" width="1.5" height="9"/><rect x="931" y="200" width="1.5" height="9"/><rect x="936" y="200" width="1.5" height="9"/></g>
 <!-- woman -->
 <rect x="983.5" y="122" width="6" height="9" fill="#eba080"/>
 <path d="M975 114 Q975 102 985 102.8 Q995 103.5 994.5 115 L994 127 L991 122 L991 111 Q987 108 983.5 112 L983 130 L979 139 Q973 132 975 114 Z" fill="#97463a"/>
 <path d="M983.5 111 Q987 107 991 110.5 L992.5 121 Q991.5 126 987.5 126 L983.5 125 Z" fill="#f0a888"/>
 <path d="M972 135 Q972 129.3 978 129.3 L991 129.3 Q997 129.5 997 136 L995 167.8 L970 167.8 Z" fill="#f4c34a"/>
 <path d="M969.5 167.2 L994.7 167.2 L994 200 L992 237 L986 237 L983 200 L972 232 L967 229 L976 195 Z" fill="#2a5bac"/>
 <path d="M965 228 L972 232 L969 237 Z M985 237 L994 237 L993 233 L986 233 Z" fill="#1a2a40"/>
 <path d="M973 141 Q969 160 978 168 L988 172 L988 169 L980 163 Q975 155 977 143 Z" fill="#f0a888"/>
 <path d="M995 139 Q997 155 1003 157 L1018 158 L1018 155 L1004 153 Q1000 148 999 140 Z" fill="#f0a888"/>
 <!-- cart -->
 <g fill="none" stroke="#ebe6e4" stroke-width="1">
  <path d="M1018 158 L1022 197 L1086 197 L1090 165"/>
  <path d="M1030 197 L1034 229 L1082 229 L1084 197"/>
 </g>
 <path d="M1023 168 L1045 166 L1046 180 L1024 181 Z" fill="#eab98a"/>
 <path d="M1036 170 L1044 170 L1044 180 L1036 180 Z" fill="#f2d060"/>
 <path d="M1063 172 Q1066 164 1072 165 Q1082 166 1084 176 L1084 190 L1064 190 Z" fill="#ebc098"/>
 <path d="M1024 179 Q1019 181 1022 194 L1030 196 L1030 180 Z" fill="#d9322e"/>
 <rect x="1030" y="176" width="11.5" height="18" fill="#7cc4dc"/>
 <rect x="1032" y="185" width="7" height="3" fill="#fff" opacity="0.8"/>
 <path d="M1045 174 L1058 170 L1060 184 L1046 186 Z" fill="#4aa0b8"/>
 <rect x="1048" y="166" width="2.5" height="6" fill="#222"/>
 <rect x="1055" y="167" width="2.5" height="8" fill="#222"/>
 <rect x="1041.5" y="183" width="16.5" height="11.5" fill="#d63232"/>
 <circle cx="1046" cy="188.5" r="2.6" fill="none" stroke="#fff" stroke-width="1"/>
 <rect x="1058.5" y="180" width="2" height="14" fill="#2a2a3a"/>
 <rect x="1060.5" y="180" width="12" height="14.5" fill="#c8905a"/>
 <rect x="1062" y="182" width="9" height="3" fill="#8a3a2a"/>
 <path d="M1073 180 L1078 178 L1078 194 L1072 195 Z" fill="#f0d8c0"/>
 <path d="M1079 180 Q1082 177 1083 182 L1080 195 L1076 195 Z" fill="#c8221e"/>
 <g fill="#1f2430">
  <circle cx="1038.5" cy="234.4" r="4.5"/><circle cx="1050.5" cy="234.4" r="4.5"/><circle cx="1065.5" cy="234.4" r="4.5"/><circle cx="1079.7" cy="234.4" r="4.5"/>
 </g>
 <g fill="#9aa8b8"><rect x="1037.5" y="230.5" width="2" height="4"/><rect x="1049.5" y="230.5" width="2" height="4"/><rect x="1064.5" y="230.5" width="2" height="4"/><rect x="1078.7" y="230.5" width="2" height="4"/></g>
</g>

<!-- WFE LOGO -->
<g id="logo">
 <path d="M1777 984 C1815 983 1851 1012 1852 1057 C1853 1098 1822 1134 1778 1135 C1735 1136 1702 1102 1702 1059 C1702 1018 1735 985 1777 984 Z" fill="#2f9d41"/>
 <path d="M1745 993 Q1775 980 1812 990 Q1838 1000 1848 1022" fill="none" stroke="#2f9d41" stroke-width="2.5" stroke-dasharray="6 2 3 2" opacity="0.8"/>
 <g fill="#fff" stroke="#fff" stroke-width="1.6" stroke-linejoin="round" font-family="Liberation Sans, sans-serif" font-weight="bold">
  <text x="1726.4" y="1047.9" font-size="36" textLength="94.4" lengthAdjust="spacingAndGlyphs" transform="rotate(-4 1773 1031)">WHOLE</text>
  <text x="1741.4" y="1074.9" font-size="31" textLength="66" lengthAdjust="spacingAndGlyphs">FOOD</text>
  <text x="1733.9" y="1111.6" font-size="40" textLength="87.7" lengthAdjust="spacingAndGlyphs" transform="rotate(-3 1777 1095)">EARTH</text>
  <circle cx="1830" cy="1105" r="3.2" fill="none" stroke="#fff" stroke-width="1"/>
 </g>
 <path d="M1714 1108 Q1722 1098 1733 1108 Q1740 1122 1728 1128 Q1738 1140 1775 1136" fill="none" stroke="#4a3a33" stroke-width="2.2" stroke-dasharray="2.5 2.5"/>
 <path d="M1690 1112 Q1700 1128 1722 1130" fill="none" stroke="#9a9090" stroke-width="1" stroke-dasharray="2 2"/>
 <ellipse cx="1778" cy="1124" rx="3" ry="4" fill="#fff" stroke="#2a6a2a" stroke-width="0.8" transform="rotate(-30 1778 1124)"/>
 <ellipse cx="1789" cy="1135" rx="3" ry="4" fill="#fff" stroke="#2a6a2a" stroke-width="0.8" transform="rotate(-30 1789 1135)"/>
 <ellipse cx="1783.5" cy="1128.5" rx="5.5" ry="4.5" fill="#f6c83a" stroke="#3a2a1a" stroke-width="0.8"/>
 <path d="M1781 1124.5 L1780 1132.5 M1784.5 1124 L1784 1133" stroke="#3a2a1a" stroke-width="1"/>
</g>
<!--ILLUS-->




</svg>
</body></html>
